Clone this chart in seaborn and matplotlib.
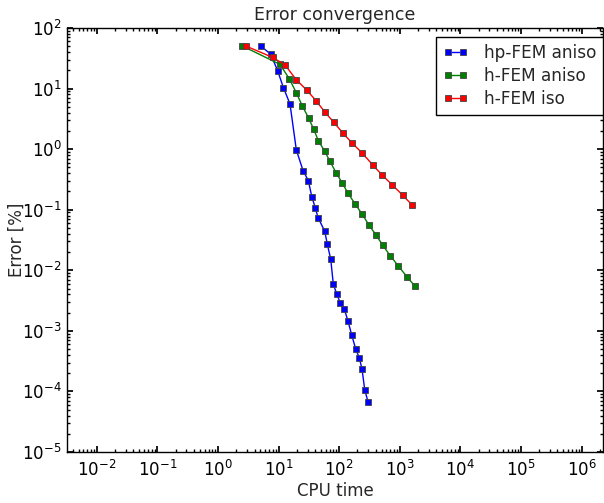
import numpy as np
import pandas as pd
import matplotlib
matplotlib.use("Agg")
import matplotlib.pyplot as plt
import matplotlib.ticker as mticker
import seaborn as sns

# ---- data ----
hp_aniso_time = [5.07, 7.41, 9.67, 11.96, 15.4, 19.6, 25.3, 30.9, 35.2, 40.3, 44.7,
                 57.6, 63.6, 72.4, 79.9, 90.9, 104.2, 121.4, 139.7, 160.8, 187.2,
                 214.6, 237.8, 263.6, 298.6]
hp_aniso_err = [50.4, 36.8, 19.5, 10.4, 5.57, 0.968, 0.442, 0.303, 0.165, 0.107, 0.074,
                0.0443, 0.0270, 0.01526, 0.0059, 0.00408, 0.00287, 0.00228, 0.00145,
                0.000852, 0.0005, 0.000359, 0.000233, 0.000107, 6.74e-5]

h_aniso_time = [2.52, 10.5, 14.96, 19.5, 24.6, 31.4, 37.9, 45.2, 57.6, 69.7, 88.6,
                111.3, 139.7, 182.3, 237.8, 310.3, 400, 522, 697, 944, 1300, 1762]
h_aniso_err = [50.4, 25.1, 14.6, 8.6, 5.16, 3.23, 2.13, 1.38, 0.924, 0.639, 0.409,
               0.280, 0.187, 0.125, 0.0852, 0.0555, 0.0389, 0.0260, 0.0173, 0.0118,
               0.00788, 0.00553]

h_iso_time = [2.87, 8.0, 12.8, 19.4, 29.1, 41.4, 58.3, 81.2, 115.6, 164.5, 240.6,
              357, 514, 752, 1109, 1607]
h_iso_err = [50.4, 32.6, 24.5, 14.1, 9.43, 6.31, 4.06, 2.78, 1.83, 1.25, 0.856,
             0.549, 0.371, 0.256, 0.175, 0.1187]

series_names = ["hp-FEM aniso", "h-FEM aniso", "h-FEM iso"]
series_colors = ["#0000ff", "#008000", "#ff0000"]

x_tick_exponents = [-2, -1, 0, 1, 2, 3, 4, 5, 6]
y_tick_exponents = [-5, -4, -3, -2, -1, 0, 1, 2]

title_text = "Error convergence"
x_label = "CPU time"
y_label = "Error [%]"

# ---- build data frame ----
frames = []
for name, t, e in zip(series_names,
                      [hp_aniso_time, h_aniso_time, h_iso_time],
                      [hp_aniso_err, h_aniso_err, h_iso_err]):
    frames.append(pd.DataFrame({"time": t, "err": e, "series": name}))
df = pd.concat(frames, ignore_index=True)

# ---- style ----
sns.set_theme(style="white")
plt.rcParams.update({
    "font.family": ["DejaVu Sans"],
    "font.size": 12,
    "axes.edgecolor": "black",
    "axes.linewidth": 1.0,
    "xtick.direction": "in",
    "ytick.direction": "in",
    "xtick.top": True,
    "ytick.right": True,
    "xtick.bottom": True,
    "ytick.left": True,
    "xtick.major.size": 4,
    "ytick.major.size": 4,
    "xtick.minor.size": 2,
    "ytick.minor.size": 2,
    "xtick.color": "black",
    "ytick.color": "black",
    "xtick.labelsize": 12,
    "ytick.labelsize": 12,
    "xtick.major.pad": 6,
    "ytick.major.pad": 4,
})

fig = plt.figure(figsize=(6.04, 5.03), dpi=100)
ax = fig.add_axes([0.1115, 0.1014, 0.8863, 0.8430])

for name, col in zip(series_names, series_colors):
    sub = df[df["series"] == name]
    sns.lineplot(data=sub, x="time", y="err", ax=ax, color=col, marker="s",
                 markersize=5, markeredgecolor="#444444", markeredgewidth=0.6,
                 linewidth=1.0, sort=False, estimator=None, label=name)

ax.set_xscale("log")
ax.set_yscale("log")
xmin, xmax = 10 ** -2.487, 10 ** 6.348
ax.set_xlim(xmin, xmax)
ax.set_ylim(1e-5, 1e2)

x_major = [10.0 ** e for e in x_tick_exponents]
y_major = [10.0 ** e for e in y_tick_exponents]
x_minor = [m * 10.0 ** e for e in range(-3, 7) for m in range(2, 10)
           if xmin <= m * 10.0 ** e <= xmax]
y_minor = [m * 10.0 ** e for e in range(-5, 2) for m in range(2, 10)]

ax.xaxis.set_major_locator(mticker.FixedLocator(x_major))
ax.yaxis.set_major_locator(mticker.FixedLocator(y_major))
ax.xaxis.set_major_formatter(mticker.LogFormatterSciNotation())
ax.yaxis.set_major_formatter(mticker.LogFormatterSciNotation())
ax.xaxis.set_minor_locator(mticker.FixedLocator(x_minor))
ax.yaxis.set_minor_locator(mticker.FixedLocator(y_minor))
ax.xaxis.set_minor_formatter(mticker.NullFormatter())
ax.yaxis.set_minor_formatter(mticker.NullFormatter())
ax.tick_params(which="both", top=True, right=True, direction="in")

ax.set_title(title_text, fontsize=12.5, pad=6)
ax.set_xlabel(x_label, fontsize=12, labelpad=1)
ax.set_ylabel(y_label, fontsize=12)
ax.yaxis.set_label_coords(-0.077, 0.5)

leg = ax.legend(loc="upper right", bbox_to_anchor=(1.0, 1 - 9 / 424), borderaxespad=0,
                numpoints=2, fancybox=False, framealpha=1, edgecolor="black",
                fontsize=12.2, handlelength=1.5, handletextpad=0.9,
                borderpad=0.4, labelspacing=0.3)
leg.get_frame().set_linewidth(1.0)

fig.savefig("out.png", dpi=100)
